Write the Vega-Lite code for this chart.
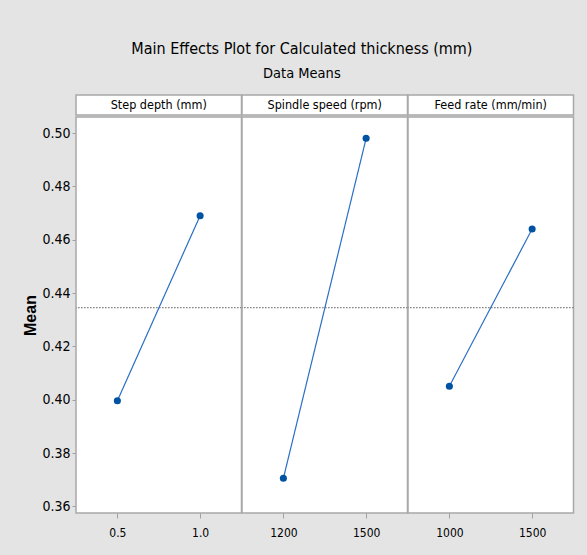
{
  "$schema": "https://vega.github.io/schema/vega-lite/v6.json",
  "autosize": {"type": "pad"},
  "padding": {"left": 22, "top": 40, "right": 13, "bottom": 40},
  "background": "#e4e4e4",
  "title": {
    "text": "Main Effects Plot for Calculated thickness (mm)",
    "subtitle": "Data Means",
    "anchor": "middle",
    "fontSize": 16,
    "fontWeight": "normal",
    "font": "DejaVu Sans Condensed, sans-serif",
    "subtitleFont": "DejaVu Sans Condensed, sans-serif",
    "subtitleFontSize": 14.5,
    "subtitleColor": "black",
    "color": "black",
    "offset": 14,
    "subtitlePadding": 10,
    "dx": 3
  },
  "datasets": {
    "means": [
      {"factor": "Step depth (mm)", "level": "0.5", "mean": 0.3996},
      {"factor": "Step depth (mm)", "level": "1.0", "mean": 0.4690},
      {"factor": "Spindle speed (rpm)", "level": "1200", "mean": 0.3705},
      {"factor": "Spindle speed (rpm)", "level": "1500", "mean": 0.4980},
      {"factor": "Feed rate (mm/min)", "level": "1000", "mean": 0.4050},
      {"factor": "Feed rate (mm/min)", "level": "1500", "mean": 0.4640}
    ],
    "factors": [
      {"factor": "Step depth (mm)"},
      {"factor": "Spindle speed (rpm)"},
      {"factor": "Feed rate (mm/min)"}
    ]
  },
  "vconcat": [
    {
      "data": {"name": "factors"},
      "facet": {
        "column": {
          "field": "factor",
          "type": "nominal",
          "sort": ["Step depth (mm)", "Spindle speed (rpm)", "Feed rate (mm/min)"],
          "header": null
        }
      },
      "spacing": 0,
      "bounds": "flush",
      "spec": {
        "width": 165.5,
        "height": 20,
        "layer": [
          {"mark": {"type": "rect", "fill": "white", "stroke": "#a8a8a8", "strokeWidth": 1.5}},
          {
            "mark": {
              "type": "text",
              "fontSize": 12.5,
              "font": "DejaVu Sans Condensed, sans-serif",
              "color": "black",
              "baseline": "middle",
              "align": "center"
            },
            "encoding": {"text": {"field": "factor", "type": "nominal"}}
          }
        ]
      }
    },
    {
      "data": {"name": "means"},
      "facet": {
        "column": {
          "field": "factor",
          "type": "nominal",
          "sort": ["Step depth (mm)", "Spindle speed (rpm)", "Feed rate (mm/min)"],
          "header": null
        }
      },
      "spacing": 0,
      "bounds": "flush",
      "resolve": {"scale": {"x": "independent"}},
      "spec": {
        "width": 165.5,
        "height": 396,
        "encoding": {
          "x": {
            "field": "level",
            "type": "ordinal",
            "scale": {"type": "point", "padding": 0.5},
            "axis": {
              "title": null,
              "labelAngle": 0,
              "domain": false,
              "tickSize": 5,
              "tickColor": "#a0a0a0",
              "labelFontSize": 12,
              "labelPadding": 9,
              "labelColor": "black",
              "labelFont": "DejaVu Sans Condensed, sans-serif"
            }
          },
          "y": {
            "field": "mean",
            "type": "quantitative",
            "scale": {"domain": [0.3575, 0.506], "nice": false, "zero": false},
            "axis": {
              "title": "Mean",
              "titleFont": "Liberation Sans, Arial, sans-serif",
              "titleFontSize": 16,
              "titleFontWeight": "bold",
              "titleColor": "black",
              "titlePadding": 3,
              "values": [0.36, 0.38, 0.40, 0.42, 0.44, 0.46, 0.48, 0.50],
              "format": ".2f",
              "grid": false,
              "domain": false,
              "tickSize": 4,
              "tickColor": "#a0a0a0",
              "labelFontSize": 14,
              "labelColor": "black",
              "labelPadding": 2,
              "labelFont": "DejaVu Sans Condensed, sans-serif"
            }
          }
        },
        "layer": [
          {
            "mark": {"type": "rule", "color": "#888888", "strokeWidth": 1, "strokeDash": [1.5, 1.5]},
            "encoding": {"y": {"datum": 0.4345}, "x": null}
          },
          {
            "mark": {"type": "line", "color": "#2a6fc4", "strokeWidth": 1.2}
          },
          {
            "mark": {"type": "point", "filled": true, "color": "#0052a3", "size": 50, "opacity": 1}
          }
        ]
      }
    }
  ],
  "spacing": 0,
  "config": {
    "view": {"fill": "white", "stroke": "#a8a8a8", "strokeWidth": 1.5},
    "concat": {"spacing": 0},
    "facet": {"spacing": 0}
  }
}
